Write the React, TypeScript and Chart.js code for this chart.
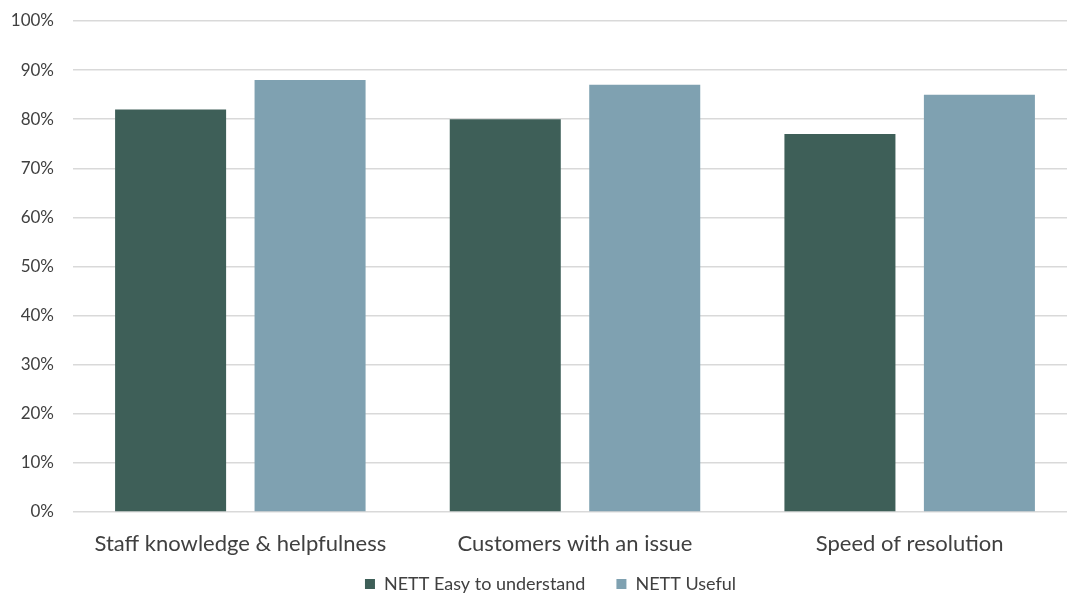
import React, { useEffect, useRef } from "react";
import { Chart, registerables } from "chart.js";

Chart.register(...registerables);

const categories = ["Staff knowledge & helpfulness", "Customers with an issue", "Speed of resolution"];
const easyValues = [82, 80, 77];
const usefulValues = [88, 87, 85];
const seriesNames = ["NETT Easy to understand", "NETT Useful"];

const FONT = "Lato, 'Open Sans', sans-serif";
const CANVAS_W = 1079;

const legendShift = {
  id: "legendShift",
  afterLayout(chart: any) {
    const lg = chart.legend;
    if (lg) {
      lg.top = 544;
      lg.bottom = 593;
      lg.height = 49;
      lg.left += 12;
      lg.right += 12;
    }
  },
};

export default function App() {
  const ref = useRef<HTMLCanvasElement | null>(null);
  useEffect(() => {
    if (!ref.current) return;
    const chart = new Chart(ref.current, {
      type: "bar",
      data: {
        labels: categories,
        datasets: [
          { label: seriesNames[0], data: easyValues, backgroundColor: "#3E5F58" },
          { label: seriesNames[1], data: usefulValues, backgroundColor: "#7FA1B1" },
        ],
      },
      plugins: [legendShift],
      options: {
        animation: false,
        responsive: false,
        maintainAspectRatio: false,
        layout: { padding: { top: 0, right: 2, left: 0, bottom: 0 } },
        datasets: { bar: { categoryPercentage: 0.8335, barPercentage: 0.796 } },
        plugins: {
          tooltip: { enabled: false },
          legend: {
            position: "bottom",
            maxHeight: 22,
            labels: {
              color: "#404040",
              font: { family: FONT, size: 18 },
              boxWidth: 10,
              boxHeight: 10,
              padding: 31,
            },
          },
        },
        scales: {
          x: {
            grid: { display: false },
            border: { display: false },
            ticks: { color: "#404040", font: { family: FONT, size: 22 }, padding: 11 },
            afterFit: (s: any) => { s.height = 59; },
          },
          y: {
            min: 0,
            max: 100,
            ticks: {
              stepSize: 10,
              color: "#404040",
              font: { family: FONT, size: 17 },
              padding: 19,
              callback: (v: any) => v + "%",
            },
            grid: { color: "#D9D9D9", lineWidth: 1.5, drawTicks: false },
            border: { display: false },
            afterFit: (s: any) => { s.width = 73; s.paddingTop = 21; },
          },
        },
      },
    });
    return () => chart.destroy();
  }, []);
  return (
    <div style={{ position: "fixed", left: 0, top: 0, width: 1067, height: 593, overflow: "hidden", background: "#fff" }}>
      <canvas ref={ref} width={CANVAS_W} height={593} style={{ display: "block" }} />
    </div>
  );
}
